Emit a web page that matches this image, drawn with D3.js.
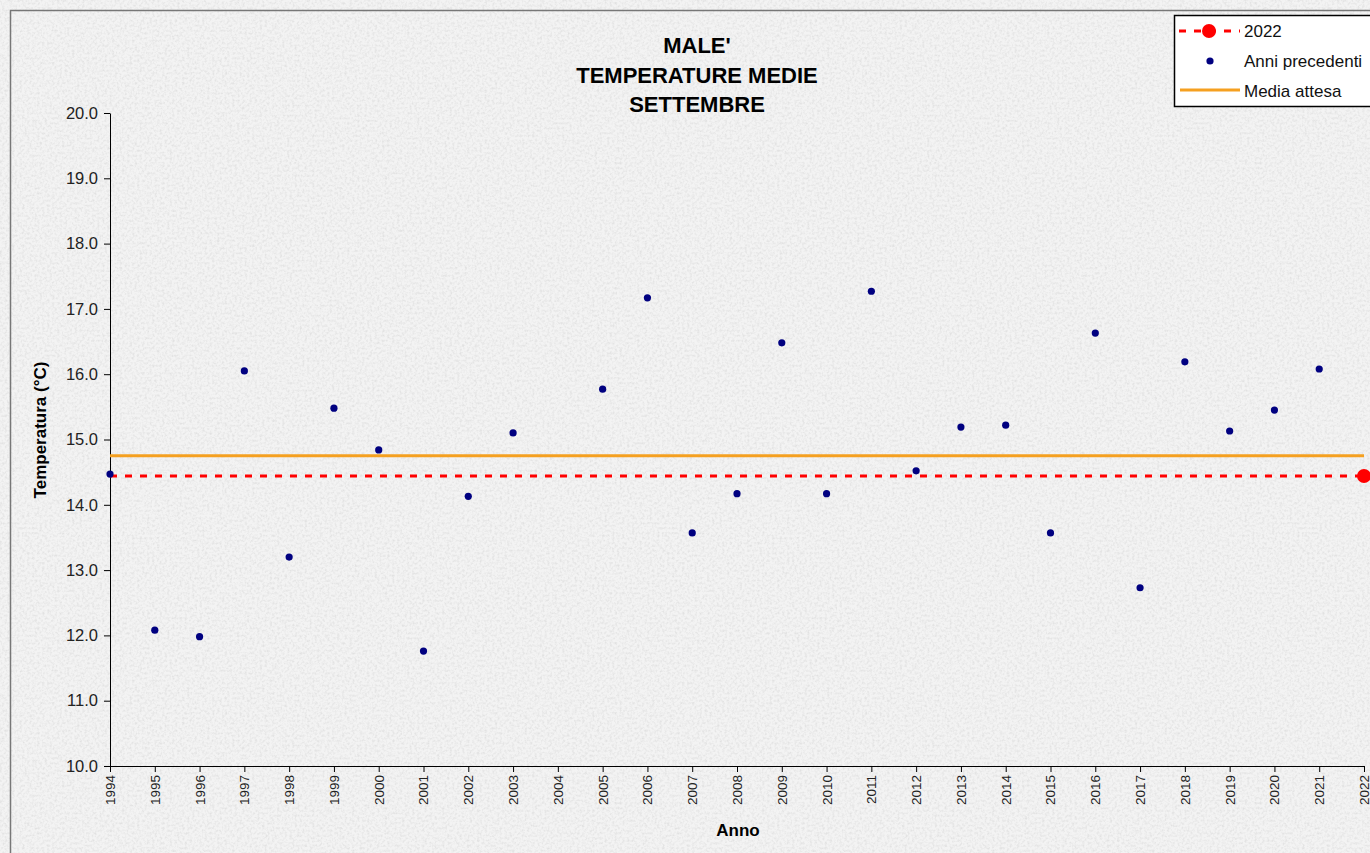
<!DOCTYPE html>
<html>
<head>
<meta charset="utf-8">
<script src="https://cdn.jsdelivr.net/npm/d3@7"></script>
<style>
  body { margin: 0; background: #eeeeee; }
  text { font-family: Arial, "Liberation Sans", sans-serif; }
</style>
</head>
<body>
<div id="chart"></div>
<script>
var svgW = 1370;
var svgH = 853;

var margin = { left: 110, right: 6, top: 113, bottom: 87 };
var chartW = svgW - margin.left - margin.right;
var chartH = svgH - margin.top - margin.bottom;

// data
var years = [1994, 1995, 1996, 1997, 1998, 1999, 2000, 2001, 2002, 2003,
             2005, 2006, 2007, 2008, 2009, 2010, 2011, 2012, 2013, 2014,
             2015, 2016, 2017, 2018, 2019, 2020, 2021];
var temps = [14.47, 12.08, 11.98, 16.05, 13.20, 15.48, 14.84, 11.76, 14.13, 15.10,
             15.77, 17.17, 13.57, 14.17, 16.48, 14.17, 17.27, 14.52, 15.19, 15.22,
             13.57, 16.63, 12.73, 16.19, 15.13, 15.45, 16.08];
var year2022 = 2022;
var temp2022 = 14.44;
var mediaAttesa = 14.75;
var yTicks = [10, 11, 12, 13, 14, 15, 16, 17, 18, 19, 20];
var titleLines = ["MALE'", "TEMPERATURE MEDIE", "SETTEMBRE"];
var legendLabels = ["2022", "Anni precedenti", "Media attesa"];

var svg = d3.select("#chart")
    .append("svg")
    .attr("width", svgW)
    .attr("height", svgH);

// granite-ish background
var defs = svg.append("defs");
var f = defs.append("filter").attr("id", "granite")
    .attr("x", 0).attr("y", 0).attr("width", "100%").attr("height", "100%");
f.append("feTurbulence").attr("type", "fractalNoise")
    .attr("baseFrequency", 0.4).attr("numOctaves", 3).attr("seed", 7).attr("result", "n");
f.append("feColorMatrix").attr("in", "n").attr("type", "matrix")
    .attr("values", "0 0 0 0 0.76  0 0 0 0 0.76  0 0 0 0 0.76  0 0 0 -2.2 1.3")
    .attr("result", "spots");
f.append("feFlood").attr("flood-color", "#f3f3f3").attr("result", "bg");
f.append("feComposite").attr("in", "spots").attr("in2", "bg").attr("operator", "over");

svg.append("rect")
    .attr("width", svgW).attr("height", svgH)
    .attr("filter", "url(#granite)");

// outer chart border
svg.append("rect")
    .attr("x", 10.5).attr("y", 10.5)
    .attr("width", svgW + 20).attr("height", svgH + 20)
    .attr("fill", "none")
    .attr("stroke", "#777")
    .attr("stroke-width", 1.5);

var g = svg.append("g")
    .attr("transform", `translate(${margin.left}, ${margin.top})`);

var xScale = d3.scaleLinear()
    .domain([1994, 2022])
    .range([0, chartW]);

var yScale = d3.scaleLinear()
    .domain([10, 20])
    .range([chartH, 0]);

var bottomAxis = d3.axisBottom(xScale)
    .tickValues(d3.range(1994, 2023))
    .tickFormat(d3.format("d"))
    .tickSize(6)
    .tickSizeOuter(0);

var leftAxis = d3.axisLeft(yScale)
    .tickValues(yTicks)
    .tickFormat(d3.format(".1f"))
    .tickSize(6)
    .tickSizeOuter(0);

var xAxisG = g.append("g")
    .attr("transform", `translate(0, ${chartH})`)
    .call(bottomAxis);
xAxisG.select(".domain").attr("stroke", "#000");
xAxisG.selectAll(".tick line").attr("stroke", "#000");
xAxisG.selectAll(".tick text")
    .attr("transform", "rotate(-90)")
    .attr("text-anchor", "end")
    .attr("x", -9)
    .attr("y", 0)
    .attr("dy", "0.33em")
    .attr("fill", "#222")
    .style("font-size", "13.5px");

var yAxisG = g.append("g").call(leftAxis);
yAxisG.select(".domain").attr("stroke", "#000");
yAxisG.selectAll(".tick line").attr("stroke", "#000");
yAxisG.selectAll(".tick text")
    .attr("x", -12)
    .attr("fill", "#222")
    .style("font-size", "16.5px");

// media attesa line
g.append("line")
    .attr("x1", 0).attr("x2", chartW)
    .attr("y1", yScale(mediaAttesa)).attr("y2", yScale(mediaAttesa))
    .attr("stroke", "#f5a020")
    .attr("stroke-width", 3);

// 2022 reference line
g.append("line")
    .attr("x1", 0).attr("x2", chartW)
    .attr("y1", yScale(temp2022)).attr("y2", yScale(temp2022))
    .attr("stroke", "#ff0000")
    .attr("stroke-width", 3)
    .attr("stroke-dasharray", "7,8");

// previous years
g.selectAll("circle.prev")
    .data(years)
    .enter()
    .append("circle")
    .attr("class", "prev")
    .attr("cx", (d, i) => xScale(d))
    .attr("cy", (d, i) => yScale(temps[i]))
    .attr("r", 3.6)
    .attr("fill", "#000080");

// 2022 point
g.append("circle")
    .attr("cx", xScale(year2022))
    .attr("cy", yScale(temp2022))
    .attr("r", 7)
    .attr("fill", "#ff0000");

// title
svg.append("text")
    .attr("y", 53)
    .attr("text-anchor", "middle")
    .attr("font-weight", "bold")
    .attr("fill", "#000")
    .style("font-size", "22px")
    .selectAll("tspan")
    .data(titleLines)
    .enter()
    .append("tspan")
    .attr("x", 697)
    .attr("dy", (d, i) => i == 0 ? 0 : 29.5)
    .text(d => d);

// axis labels
svg.append("text")
    .attr("x", 738)
    .attr("y", 836)
    .attr("text-anchor", "middle")
    .attr("font-weight", "bold")
    .style("font-size", "17px")
    .text("Anno");

svg.append("text")
    .attr("transform", "rotate(-90)")
    .attr("x", -430)
    .attr("y", 46)
    .attr("text-anchor", "middle")
    .attr("font-weight", "bold")
    .style("font-size", "17px")
    .text("Temperatura (°C)");

// legend
var leg = svg.append("g").attr("transform", "translate(1174, 15)");
leg.append("rect")
    .attr("x", 0.5).attr("y", 0.5)
    .attr("width", 220).attr("height", 91)
    .attr("fill", "#fff")
    .attr("stroke", "#000")
    .attr("stroke-width", 1.5);

leg.append("line")
    .attr("x1", 5).attr("x2", 66)
    .attr("y1", 16).attr("y2", 16)
    .attr("stroke", "#ff0000").attr("stroke-width", 3)
    .attr("stroke-dasharray", "7,8");
leg.append("circle").attr("cx", 35).attr("cy", 16).attr("r", 7).attr("fill", "#ff0000");

leg.append("circle").attr("cx", 36).attr("cy", 46).attr("r", 3.6).attr("fill", "#000080");

leg.append("line")
    .attr("x1", 6).attr("x2", 66)
    .attr("y1", 75).attr("y2", 75)
    .attr("stroke", "#f5a020").attr("stroke-width", 3);

leg.selectAll("text.lab")
    .data(legendLabels)
    .enter()
    .append("text")
    .attr("class", "lab")
    .attr("x", 70)
    .attr("y", (d, i) => 16 + i * 30)
    .attr("dy", "0.35em")
    .attr("fill", "#111")
    .style("font-size", "17px")
    .text(d => d);
</script>
</body>
</html>
